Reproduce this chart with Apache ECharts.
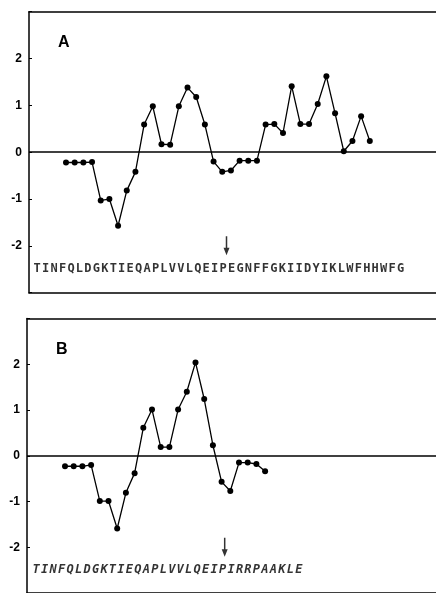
<!DOCTYPE html>
<html>
<head>
<meta charset="utf-8">
<script src="https://cdn.jsdelivr.net/npm/echarts@6/dist/echarts.min.js"></script>
<style>
  html, body { margin: 0; padding: 0; background: #fff; }
  #chart { width: 436px; height: 593px; }
</style>
</head>
<body>
<div id="chart"></div>
<script>
// sequences under each plot
const seqA = 'TINFQLDGKTIEQAPLVVLQEIPEGNFFGKIIDYIKLWFHHWFG'.split('')
const seqB = 'TINFQLDGKTIEQAPLVVLQEIPIRRPAAKLE'.split('')

// hydropathy values, one per window position
const valuesA = [-0.22, -0.22, -0.22, -0.21, -1.03, -1.0, -1.57, -0.82, -0.42, 0.59,
  0.98, 0.17, 0.16, 0.98, 1.38, 1.18, 0.59, -0.2, -0.42, -0.39,
  -0.18, -0.18, -0.18, 0.59, 0.6, 0.41, 1.41, 0.6, 0.6, 1.03,
  1.62, 0.83, 0.02, 0.24, 0.77, 0.24]
const valuesB = [-0.23, -0.23, -0.23, -0.2, -0.99, -0.99, -1.59, -0.81, -0.38, 0.61,
  1.01, 0.19, 0.19, 1.01, 1.4, 2.04, 1.24, 0.23, -0.57, -0.77,
  -0.15, -0.15, -0.18, -0.34]

// arrow marks (position along the sequence, letter index)
const arrowA = 23.4
const arrowB = 23.25

const yTicks = [-3, -2, -1, 0, 1, 2, 3]

const chart = echarts.init(document.getElementById('chart'))

// value range of a hidden x axis so that value v0 lands at pixel px0 with given step
function axisRange(px0, step, left, width, v0) {
  const min = v0 - (px0 - left) / step
  return { min: min, max: min + width / step }
}

const grids = [
  { left: 29, top: 11.7, width: 407, height: 281 },
  { left: 27, top: 318.5, width: 409, height: 282 }
]

const ptA = axisRange(66, 8.68, 29, 407, 1)
const lettA = axisRange(33 + 0.5 * 8.45, 8.45, 29, 407, 1)
const ptB = axisRange(65, 8.7, 27, 409, 1)
const lettB = axisRange(32 + 0.5 * 8.47, 8.47, 27, 409, 1)

// point axis draws the bottom frame line, letter axis the top one
function frameX(gridIndex, r, pos) {
  return {
    type: 'value', gridIndex: gridIndex, min: r.min, max: r.max, position: pos,
    axisLine: { show: true, onZero: false, lineStyle: { color: '#000', width: 1.5 } },
    axisTick: { show: false },
    axisLabel: { show: false },
    splitLine: { show: false }
  }
}

function yAxisFor(gridIndex) {
  return {
    type: 'value',
    gridIndex: gridIndex,
    min: yTicks[0],
    max: yTicks[yTicks.length - 1],
    interval: 1,
    axisLine: { show: true, onZero: false, lineStyle: { color: '#000', width: 1.5 } },
    axisTick: { show: true, inside: true, length: 3, lineStyle: { color: '#000', width: 1 } },
    axisLabel: {
      margin: 7,
      color: '#000',
      fontSize: 12,
      fontWeight: 'bold',
      fontFamily: 'Liberation Sans, Arial, sans-serif',
      formatter: v => (Math.abs(v) === 3 ? '' : String(v))
    },
    splitLine: { show: false }
  }
}

function lineSeries(xi, yi, values) {
  return {
    type: 'line',
    xAxisIndex: xi,
    yAxisIndex: yi,
    data: values.map((v, i) => [i + 1, v]),
    symbol: 'circle',
    symbolSize: 6,
    lineStyle: { color: '#000', width: 1.3 },
    itemStyle: { color: '#000' },
    markLine: {
      silent: true,
      symbol: 'none',
      label: { show: false },
      lineStyle: { color: '#000', width: 1.6, type: 'solid' },
      data: [{ yAxis: 0 }]
    },
    z: 3
  }
}

function seqSeries(xi, yi, letters, italic) {
  return {
    type: 'scatter',
    xAxisIndex: xi,
    yAxisIndex: yi,
    symbolSize: 1,
    itemStyle: { color: 'transparent' },
    label: {
      show: true,
      position: 'inside',
      color: '#000',
      fontSize: 12,
      fontWeight: 'bold',
      fontStyle: italic ? 'italic' : 'normal',
      fontFamily: 'DejaVu Sans Mono, monospace',
      formatter: p => p.data[2]
    },
    data: letters.map((c, i) => [i + 1, -2.5, c])
  }
}

function arrowSeries(xi, yi, pos) {
  return {
    type: 'scatter',
    xAxisIndex: xi,
    yAxisIndex: yi,
    symbol: 'path://M4,0 L6,0 L6,12 L9,12 L5,20 L1,12 L4,12 Z',
    symbolSize: [6, 19],
    itemStyle: { color: '#000' },
    data: [[pos, -2]]
  }
}

const option = {
  animation: false,
  backgroundColor: '#fff',
  grid: grids.map(g => Object.assign({ show: false }, g)),
  xAxis: [frameX(0, ptA, 'bottom'), frameX(0, lettA, 'top'), frameX(1, ptB, 'bottom'), frameX(1, lettB, 'top')],
  yAxis: [yAxisFor(0), yAxisFor(1)],
  series: [
    lineSeries(0, 0, valuesA),
    seqSeries(1, 0, seqA, false),
    arrowSeries(1, 0, arrowA),
    lineSeries(2, 1, valuesB),
    seqSeries(3, 1, seqB, true),
    arrowSeries(3, 1, arrowB)
  ],
  graphic: [
    {
      type: 'text', left: 58, top: 35,
      style: { text: 'A', fill: '#000', font: '900 16px Liberation Sans, Arial, sans-serif' }
    },
    {
      type: 'text', left: 56, top: 342,
      style: { text: 'B', fill: '#000', font: '900 16px Liberation Sans, Arial, sans-serif' }
    }
  ]
}

chart.setOption(option)
</script>
</body>
</html>
